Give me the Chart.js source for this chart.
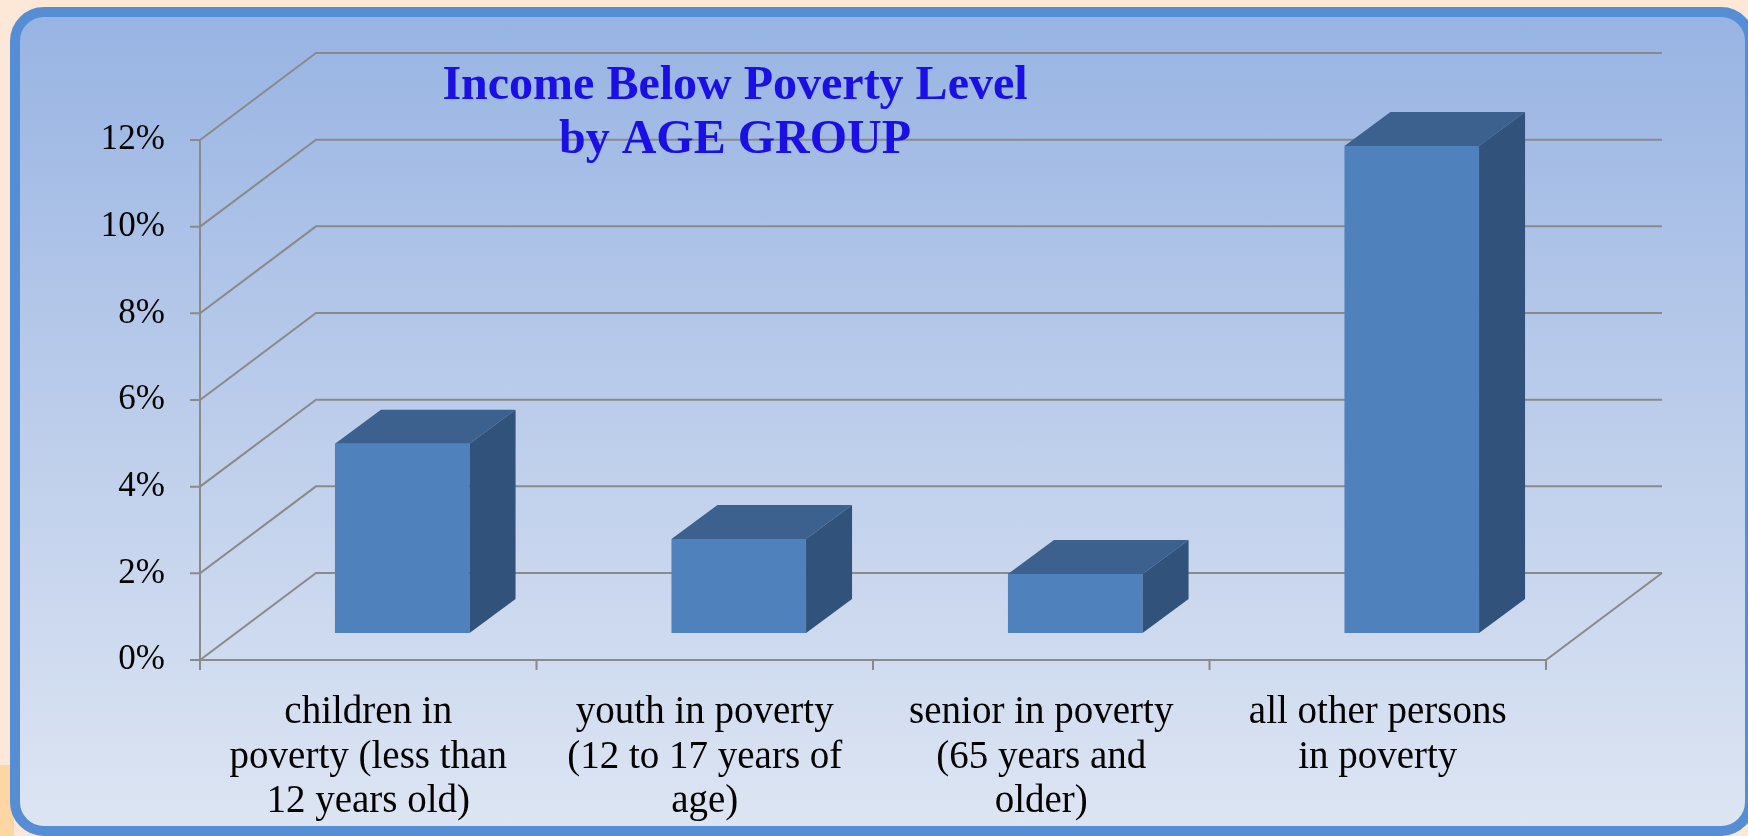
<!DOCTYPE html>
<html lang="en">
<head>
<meta charset="UTF-8">
<title>Income Below Poverty Level by Age Group</title>
<script src="https://cdn.jsdelivr.net/npm/chart.js"></script>
<style>
  html, body { margin: 0; padding: 0; }
  body { width: 1748px; height: 836px; background: #fde8d8; position: relative; overflow: hidden; }
  #strip { position: absolute; left: 0; top: 765px; width: 14px; height: 71px; background: #fdd6a3; }
  #panel {
    position: absolute; left: 10px; top: 7px; width: 1745px; height: 829px;
    box-sizing: border-box; border: 10px solid #558ed5; border-radius: 34px;
    background: linear-gradient(to bottom, #98b4e3 0%, #b9cbea 45%, #dde5f3 100%);
  }
  #chart { position: absolute; left: 0; top: 0; }
</style>
</head>
<body>
<div id="strip"></div>
<div id="panel"></div>
<canvas id="chart" width="1748" height="836"></canvas>

<script>
  // data
  const categories = [
    ['children in', 'poverty (less than', '12 years old)'],
    ['youth in poverty', '(12 to 17 years of', 'age)'],
    ['senior in poverty', '(65 years and', 'older)'],
    ['all other persons', 'in poverty']
  ];
  const povertyPct = [4.37, 2.17, 1.36, 11.24];
  const yTicks = [0, 2, 4, 6, 8, 10, 12];
  const titleLines = ['Income Below Poverty Level', 'by AGE GROUP'];

  const serif = '"Liberation Serif", "Times New Roman", serif';

  // fake 3d look
  const WALL_DX = 116, WALL_DY = 87;   // depth of the back wall
  const BAR_SHIFT_X = 34, BAR_SHIFT_Y = 27; // bars stand a bit into the floor
  const BAR_DX = 46, BAR_DY = 34;     // depth of a bar
  const lineColor = '#8a8a8a';

  const wallsAndBoxes = {
    id: 'wallsAndBoxes',
    beforeDatasetsDraw(chart) {
      const { ctx, chartArea: a, scales: { x, y } } = chart;
      ctx.save();
      ctx.strokeStyle = lineColor;
      ctx.lineWidth = 2;
      ctx.beginPath();
      y.ticks.forEach(t => {
        const py = y.getPixelForValue(t.value);
        ctx.moveTo(a.left - 10, py);
        ctx.lineTo(a.left, py);
        ctx.lineTo(a.left + WALL_DX, py - WALL_DY);
        ctx.lineTo(a.right + WALL_DX, py - WALL_DY);
      });
      // front axis and floor
      ctx.moveTo(a.left, y.getPixelForValue(yTicks[yTicks.length - 1]));
      ctx.lineTo(a.left, a.bottom);
      ctx.lineTo(a.right, a.bottom);
      ctx.lineTo(a.right + WALL_DX, a.bottom - WALL_DY);
      for (let i = 0; i <= categories.length; i++) {
        const px = x.getPixelForValue(i - 0.5);
        ctx.moveTo(px, a.bottom);
        ctx.lineTo(px, a.bottom + 10);
      }
      ctx.stroke();
      ctx.restore();

      // bars get drawn shifted back into the box
      ctx.save();
      ctx.translate(BAR_SHIFT_X, -BAR_SHIFT_Y);
    },
    afterDatasetsDraw(chart) {
      const ctx = chart.ctx;
      chart.getDatasetMeta(0).data.forEach(bar => {
        const p = bar.getProps(['x', 'y', 'base', 'width'], true);
        const l = p.x - p.width / 2, r = p.x + p.width / 2;
        ctx.fillStyle = '#3c618f';
        ctx.beginPath();
        ctx.moveTo(l, p.y);
        ctx.lineTo(l + BAR_DX, p.y - BAR_DY);
        ctx.lineTo(r + BAR_DX, p.y - BAR_DY);
        ctx.lineTo(r, p.y);
        ctx.closePath();
        ctx.fill();
        ctx.fillStyle = '#31527a';
        ctx.beginPath();
        ctx.moveTo(r, p.y);
        ctx.lineTo(r + BAR_DX, p.y - BAR_DY);
        ctx.lineTo(r + BAR_DX, p.base - BAR_DY);
        ctx.lineTo(r, p.base);
        ctx.closePath();
        ctx.fill();
      });
      ctx.restore();
    },
    afterDraw(chart) {
      // title floats over the back wall
      const ctx = chart.ctx;
      ctx.save();
      ctx.font = 'bold 48px ' + serif;
      ctx.fillStyle = '#1a10e6';
      ctx.textAlign = 'center';
      ctx.textBaseline = 'alphabetic';
      ctx.fillText(titleLines[0], 735, 99);
      ctx.fillText(titleLines[1], 735, 153);
      ctx.restore();
    }
  };

  new Chart(document.getElementById('chart'), {
    type: 'bar',
    data: {
      labels: categories,
      datasets: [{
        data: povertyPct,
        backgroundColor: '#4f81bd',
        borderWidth: 0,
        categoryPercentage: 1,
        barPercentage: 0.4,
        clip: false
      }]
    },
    options: {
      responsive: false,
      animation: false,
      layout: { padding: { top: 140, right: 202, left: 0, bottom: 0 } },
      plugins: {
        legend: { display: false },
        tooltip: { enabled: false },
        title: { display: false }
      },
      scales: {
        x: {
          grid: { display: false },
          border: { display: false },
          ticks: {
            color: '#000',
            font: { family: serif, size: 39, lineHeight: 1.15 },
            padding: 22,
            maxRotation: 0,
            autoSkip: false
          },
          afterFit(scale) { scale.height = 176; }
        },
        y: {
          min: 0,
          max: 12,
          grid: { display: false },
          border: { display: false },
          afterBuildTicks(scale) { scale.ticks = yTicks.map(v => ({ value: v })); },
          ticks: {
            color: '#000',
            font: { family: serif, size: 35 },
            padding: 27,
            callback: v => v + '%'
          },
          afterFit(scale) { scale.width = 200; }
        }
      }
    },
    plugins: [wallsAndBoxes]
  });
</script>
</body>
</html>
